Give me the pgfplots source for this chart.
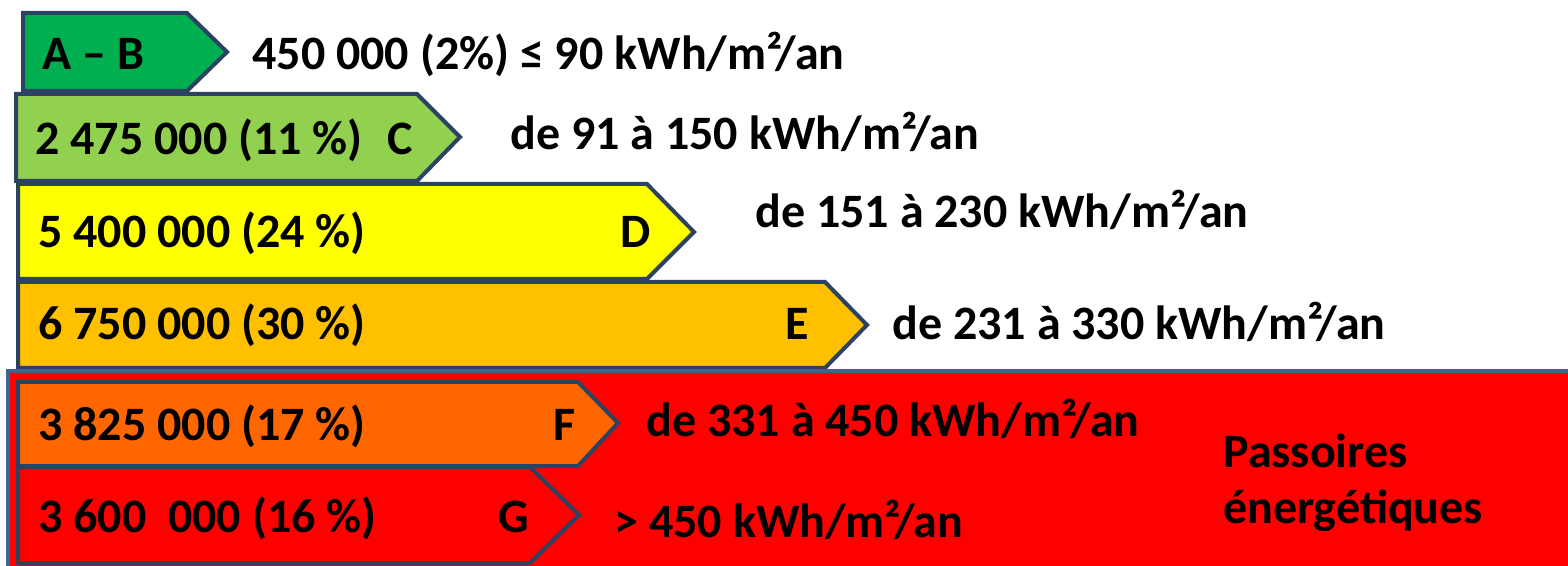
\documentclass[border=0pt]{standalone}
\usepackage{pgfplots}
\pgfplotsset{compat=1.18}
\usepackage{fontspec}
\setmainfont{Carlito}
\definecolor{bord}{HTML}{2B4263}
\definecolor{rbord}{HTML}{41648F}
\definecolor{cAB}{HTML}{00B050}
\definecolor{cC}{HTML}{92D050}
\definecolor{cD}{HTML}{FFFF00}
\definecolor{cE}{HTML}{FFC000}
\definecolor{cF}{HTML}{FF6600}
\definecolor{cG}{HTML}{FF0000}
\begin{document}
\begin{tikzpicture}
\begin{axis}[name=ax, scale only axis, width=784pt, height=283pt,
  xmin=0, xmax=1568, ymin=0, ymax=566, y dir=reverse, hide axis, clip=false,
  every axis plot/.append style={line width=2pt, line join=miter, draw=bord}]
\addplot[fill=cAB] coordinates {(23,13) (187,13) (227,52) (187,91) (23,91)} -- cycle;
\addplot[fill=cC] coordinates {(16,94) (417,94) (460,137) (417,181) (16,181)} -- cycle;
\addplot[fill=cD] coordinates {(18,184) (647,184) (694,232) (647,279) (18,279)} -- cycle;
\addplot[fill=cE] coordinates {(18,282) (825,282) (867,325) (825,368) (18,368)} -- cycle;
\addplot[fill=cG, draw=rbord, line width=2.4pt] coordinates {(8,371) (1590,371) (1590,590) (8,590)} -- cycle;
\addplot[fill=cF] coordinates {(18,382) (578,382) (618,423) (578,466) (18,466)} -- cycle;
\addplot[fill=cG] coordinates {(18,467) (530,467) (579,515) (530,563) (18,563)} -- cycle;
\tikzset{lab/.style={anchor=base west, inner sep=0pt, font=\bfseries\fontsize{24}{29}\selectfont}}
\node[lab] at (axis cs:42,70) {A – B};
\node[lab] at (axis cs:252,70) {450 000 (2\%) ≤ 90 kWh/m²/an};
\node[lab] at (axis cs:35,155) {2 475 000 (11 \%)};
\node[lab] at (axis cs:387,155) {C};
\node[lab] at (axis cs:510,150) {de 91 à 150 kWh/m²/an};
\node[lab] at (axis cs:38,248) {5 400 000 (24 \%)};
\node[lab] at (axis cs:620,248) {D};
\node[lab] at (axis cs:755,228) {de 151 à 230 kWh/m²/an};
\node[lab] at (axis cs:38,340) {6 750 000 (30 \%)};
\node[lab] at (axis cs:785,340) {E};
\node[lab] at (axis cs:892,340) {de 231 à 330 kWh/m²/an};
\node[lab] at (axis cs:38,440) {3 825 000 (17 \%)};
\node[lab] at (axis cs:553,440) {F};
\node[lab] at (axis cs:646,437) {de 331 à 450 kWh/m²/an};
\node[lab] at (axis cs:38,532) {3 600\ \ 000 (16 \%)};
\node[lab] at (axis cs:498,532) {G};
\node[lab] at (axis cs:614,537) {> 450 kWh/m²/an};
\node[lab] at (axis cs:1223,467) {Passoires};
\node[lab] at (axis cs:1223,523) {énergétiques};
\end{axis}
\pgfresetboundingbox
\path[use as bounding box] (ax.south west) rectangle (ax.north east);
\end{tikzpicture}
\end{document}
